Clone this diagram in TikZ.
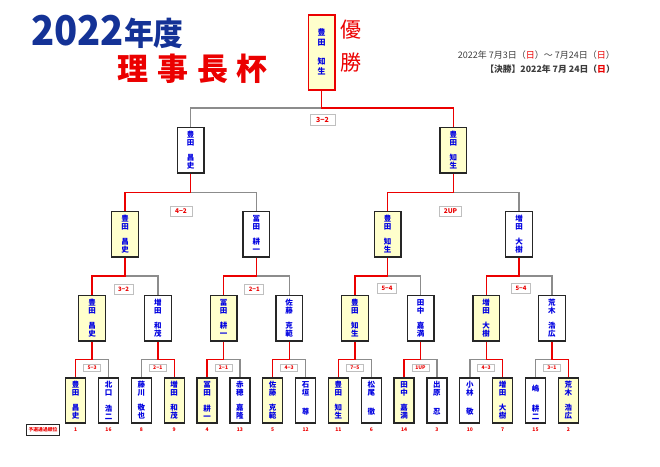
\documentclass[tikz,border=0pt]{standalone}
\usepackage{fontspec}
\setmainfont{Noto Sans CJK JP}
\usetikzlibrary{calc}
\definecolor{nblue}{RGB}{0,0,225}
\definecolor{tblue}{RGB}{20,50,150}
\definecolor{rred}{RGB}{235,0,0}
\definecolor{lgray}{RGB}{140,140,140}
\definecolor{yfill}{RGB}{255,255,204}
\definecolor{dtext}{RGB}{60,60,60}
\tikzset{
  pbox/.style={draw=black!85, line width=1.3pt, minimum width=26.7pt, minimum height=45.7pt, inner sep=0pt},
  bbox/.style={draw=black!85, line width=1.3pt, minimum width=20pt, minimum height=45pt, inner sep=0pt},
  ptxt/.style={text=nblue, font=\fontsize{7.5}{8}\selectfont\bfseries, align=center, inner sep=0pt},
  redl/.style={draw=rred, line width=1.4pt},
  grayl/.style={draw=lgray, line width=1.4pt},
  score/.style={draw=black!25, line width=0.8pt, fill=white, text=rred, inner sep=0pt, font=\bfseries},
  numtxt/.style={text=rred, font=\fontsize{5}{6}\selectfont\bfseries, inner sep=0pt}
}
\newcommand\plr[7]{%
  \node[#2, fill=#3] (#1) at (#4,#5) {};
  \node[ptxt] at (#4,{#5-11.5}) {#6};
  \node[ptxt] at (#4,{#5+11.5}) {#7};
}
\newcommand\match[4]{%
  \coordinate (jj) at (#1.south |- 0,#4);
  \draw[grayl] (jj) -| (#3.north);
  \draw[redl] (#1.south) -- (jj) -| (#2.north);
}
\begin{document}
\begin{tikzpicture}[x=1pt,y=-1pt]
\useasboundingbox (0,0) rectangle (660,466);
% titles
\node[anchor=west, text=tblue, inner sep=0pt, font=\bfseries] (t1) at (31,31.5)
  {\scalebox{0.93}[1]{\fontsize{41}{41}\selectfont 2022\fontsize{32}{32}\selectfont 年度}};
\foreach \c/\xx in {理/133,事/172.5,長/213,杯/252}
  \node[text=rred, inner sep=0pt, font=\fontsize{31}{31}\selectfont\bfseries] at (\xx,69) {\c};
\node[text=rred, inner sep=0pt, font=\fontsize{21}{21}\selectfont] (yu) at (351,30) {優};
\node[text=rred, inner sep=0pt, font=\fontsize{21}{21}\selectfont] (sho) at (351,63) {勝};
% dates
\node[anchor=east, text=dtext, inner sep=0pt, font=\fontsize{9}{10}\selectfont] (d1) at (615,55)
  {2022年 7月3日（\textcolor{rred}{日}）～ 7月24日（\textcolor{rred}{日}）};
\node[anchor=east, text=dtext, inner sep=0pt, font=\fontsize{8.8}{10}\selectfont\bfseries] (d2) at (615,69)
  {【決勝】2022年 7月 24日（\textcolor{rred}{日}）};
% champion
\node[draw=rred, line width=1.4pt, fill=yfill, minimum width=26.7pt, minimum height=75pt, inner sep=0pt] (c) at (321.7,52.5) {};
\node[ptxt, font=\fontsize{8}{10}\selectfont\bfseries] at (321.7,37.5) {豊\\田};
\node[ptxt, font=\fontsize{8}{10}\selectfont\bfseries] at (321.7,66.5) {知\\生};
% semifinal
\plr{s1}{pbox}{white}{190.7}{150}{豊\\田}{昌\\史}
\plr{s2}{pbox}{yfill}{453.4}{150}{豊\\田}{知\\生}
% quarterfinal
\plr{q1}{pbox}{yfill}{125}{234.2}{豊\\田}{昌\\史}
\plr{q2}{pbox}{white}{256.4}{234.2}{冨\\田}{耕\\一}
\plr{q3}{pbox}{yfill}{387.7}{234.2}{豊\\田}{知\\生}
\plr{q4}{pbox}{white}{519.1}{234.2}{増\\田}{大\\樹}
% round of 16
\plr{r1}{pbox}{yfill}{92.1}{318}{豊\\田}{昌\\史}
\plr{r2}{pbox}{white}{157.8}{318}{増\\田}{和\\茂}
\plr{r3}{pbox}{yfill}{223.5}{318}{冨\\田}{耕\\一}
\plr{r4}{pbox}{white}{289.2}{318}{佐\\藤}{克\\範}
\plr{r5}{pbox}{yfill}{354.9}{318}{豊\\田}{知\\生}
\plr{r6}{pbox}{white}{420.5}{318}{田\\中}{嘉\\満}
\plr{r7}{pbox}{yfill}{486.2}{318}{増\\田}{大\\樹}
\plr{r8}{pbox}{white}{551.9}{318}{荒\\木}{浩\\広}
% first round
\plr{b1}{bbox}{yfill}{75.7}{400.5}{豊\\田}{昌\\史}
\plr{b2}{bbox}{white}{108.5}{400.5}{北\\口}{浩\\二}
\plr{b3}{bbox}{white}{141.4}{400.5}{藤\\川}{敬\\也}
\plr{b4}{bbox}{yfill}{174.2}{400.5}{増\\田}{和\\茂}
\plr{b5}{bbox}{yfill}{207.1}{400.5}{冨\\田}{耕\\一}
\plr{b6}{bbox}{white}{239.9}{400.5}{赤\\穂}{嘉\\隆}
\plr{b7}{bbox}{yfill}{272.7}{400.5}{佐\\藤}{克\\範}
\plr{b8}{bbox}{white}{305.6}{400.5}{石\\垣}{尊}
\plr{b9}{bbox}{yfill}{338.4}{400.5}{豊\\田}{知\\生}
\plr{b10}{bbox}{white}{371.3}{400.5}{松\\尾}{徹}
\plr{b11}{bbox}{yfill}{404.1}{400.5}{田\\中}{嘉\\満}
\plr{b12}{bbox}{white}{436.9}{400.5}{出\\原}{忍}
\plr{b13}{bbox}{white}{469.8}{400.5}{小\\林}{敬}
\plr{b14}{bbox}{yfill}{502.6}{400.5}{増\\田}{大\\樹}
\plr{b15}{bbox}{white}{535.5}{400.5}{嶋}{耕\\二}
\plr{b16}{bbox}{yfill}{568.3}{400.5}{荒\\木}{浩\\広}
% connectors
\match{c}{s2}{s1}{108}
\match{s1}{q1}{q2}{192.5}
\match{s2}{q3}{q4}{192.5}
\match{q1}{r1}{r2}{276}
\match{q2}{r3}{r4}{276}
\match{q3}{r5}{r6}{276}
\match{q4}{r7}{r8}{276}
\match{r1}{b1}{b2}{359.5}
\match{r2}{b4}{b3}{359.5}
\match{r3}{b5}{b6}{359.5}
\match{r4}{b7}{b8}{359.5}
\match{r5}{b9}{b10}{359.5}
\match{r6}{b11}{b12}{359.5}
\match{r7}{b14}{b13}{359.5}
\match{r8}{b16}{b15}{359.5}
% scores
\node[score, minimum width=25pt, minimum height=11pt, font=\fontsize{7}{8}\selectfont\bfseries] (sc0) at (322.5,120) {3−2};
\node[score, minimum width=22pt, minimum height=10pt, font=\fontsize{6.5}{7}\selectfont\bfseries] (sc1) at (181,211) {4−2};
\node[score, minimum width=22pt, minimum height=10pt, font=\fontsize{6.5}{7}\selectfont\bfseries] (sc2) at (450.5,211) {2UP};
\foreach \t/\xx/\yy [count=\i] in {3−2/123.5/289, 2−1/254.3/289, 5−4/387/288, 5−4/521/288}
  \node[score, minimum width=19pt, minimum height=10pt, font=\fontsize{6}{7}\selectfont\bfseries] (sq\i) at (\xx,\yy) {\t};
\foreach \t/\xx [count=\i] in {5−3/92.1, 2−1/157.8, 2−1/223.5, 4−3/289.2, 7−5/354.9, 1UP/420.5, 4−3/486.2, 3−1/551.9}
  \node[score, minimum width=17pt, minimum height=7.5pt, font=\fontsize{5}{6}\selectfont\bfseries] (sr\i) at (\xx,368) {\t};
% seed numbers
\foreach \n/\xx [count=\i] in {1/75.7,16/108.5,8/141.4,9/174.2,4/207.1,13/239.9,5/272.7,12/305.6,11/338.4,6/371.3,14/404.1,3/436.9,10/469.8,7/502.6,15/535.5,2/568.3}
  \node[numtxt] (n\i) at (\xx,430) {\n};
\node[draw=black!85, line width=0.9pt, minimum width=32.6pt, minimum height=11.5pt, inner sep=0pt, text=rred, font=\fontsize{4.8}{5}\selectfont\bfseries] (yo) at (43,430) {予選通過順位};
\end{tikzpicture}
\end{document}
